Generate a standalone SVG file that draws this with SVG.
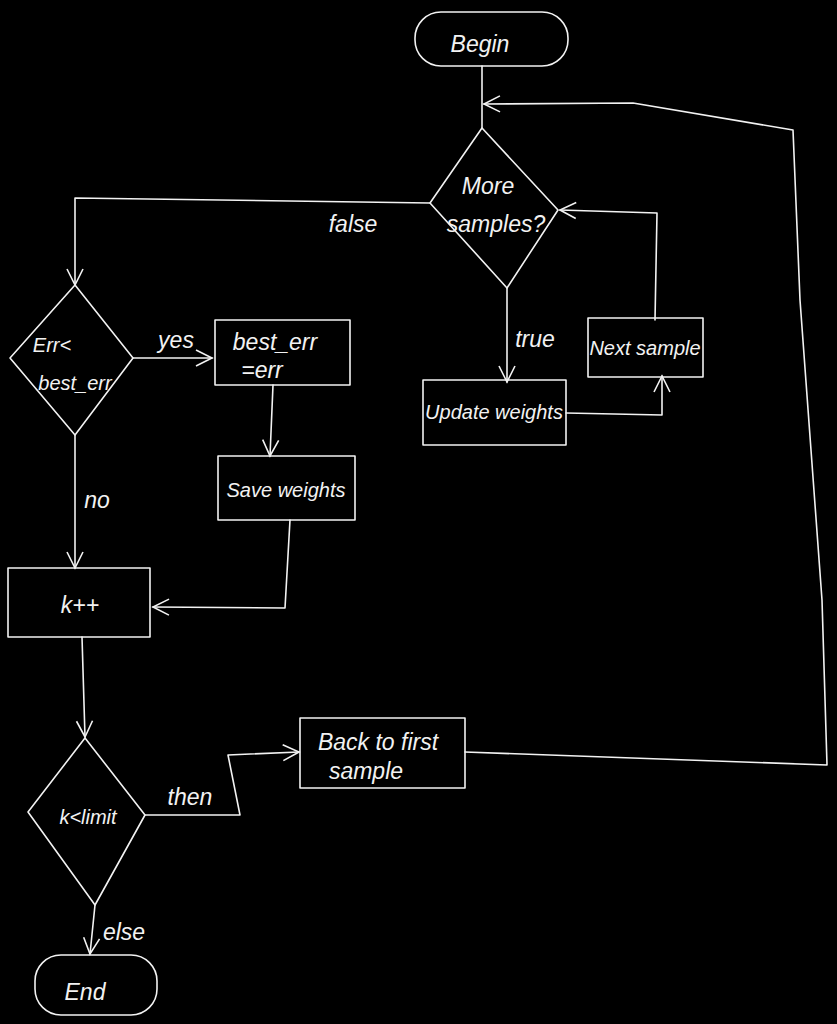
<svg xmlns="http://www.w3.org/2000/svg" width="837" height="1024" viewBox="0 0 837 1024">
<style>
.s{fill:none;stroke:#f2f2f2;stroke-width:1.6;stroke-linejoin:round;stroke-linecap:round}
.p{fill:none;stroke:#f2f2f2;stroke-width:1.6;stroke-linejoin:round;stroke-linecap:round}
.c{fill:none;stroke:#f2f2f2;stroke-width:1.6;stroke-linejoin:round;stroke-linecap:round;marker-end:url(#a)}
.t{fill:#f2f2f2;font-family:"Liberation Sans",sans-serif;font-size:23px;font-style:italic;text-anchor:middle}
.n{font-size:20px}
.l{fill:#f2f2f2;font-family:"Liberation Sans",sans-serif;font-size:23px;font-style:italic;text-anchor:middle}
</style>
<defs>
<marker id="a" viewBox="0 0 20 20" refX="18" refY="10" markerWidth="20" markerHeight="20" markerUnits="userSpaceOnUse" orient="auto">
<path d="M2,2 L18,10 L2,18" fill="none" stroke="#f2f2f2" stroke-width="1.6"/>
</marker>
</defs>
<rect width="837" height="1024" fill="#000"/>
<g id="connectors">
<path class="p" d="M482,66 L482,128"/>
<path class="c" d="M465,752 L827,765 L822,600 L800,300 L793,130 L633,103 L484,104"/>
<path class="c" d="M430,203 L75,198 L75,285"/>
<path class="c" d="M655,320 L657,213 L560,210"/>
<path class="c" d="M507,288 L507,382"/>
<path class="c" d="M566,413 L662,415 L662,376"/>
<path class="c" d="M133,358 L212,358"/>
<path class="c" d="M273,385 L270,456"/>
<path class="c" d="M290,520 L285,608 L153,607"/>
<path class="c" d="M75,435 L75,568"/>
<path class="c" d="M82,637 L85,737"/>
<path class="c" d="M145,815 L240,815 L228,755 L299,752"/>
<path class="c" d="M95,905 L90,954"/>
<text class="l" x="353" y="232">false</text>
<text class="l" x="535" y="347">true</text>
<text class="l" x="176" y="348">yes</text>
<text class="l" x="97" y="508">no</text>
<text class="l" x="190" y="805">then</text>
<text class="l" x="124" y="940">else</text>
</g>
<g id="begin">
<rect class="s" x="415" y="12" width="153" height="54" rx="26"/>
<text class="t" x="480" y="52">Begin</text>
</g>
<g id="more-samples">
<path class="s" d="M482,128 L558,210 L507,288 L430,203 Z"/>
<text class="t" x="488" y="194">More</text>
<text class="t" x="496" y="232">samples?</text>
</g>
<g id="update-weights">
<rect class="s" x="423" y="380" width="143" height="65"/>
<text class="t n" x="494" y="419">Update weights</text>
</g>
<g id="next-sample">
<rect class="s" x="588" y="318" width="115" height="59"/>
<text class="t n" x="645" y="355">Next sample</text>
</g>
<g id="err-check">
<path class="s" d="M75,285 L133,358 L75,435 L10,358 Z"/>
<text class="t n" x="52" y="352">Err&lt;</text>
<text class="t n" x="75" y="390">best_err</text>
</g>
<g id="best-err">
<rect class="s" x="215" y="320" width="135" height="65"/>
<text class="t" x="275" y="350">best_err</text>
<text class="t" x="262" y="378">=err</text>
</g>
<g id="save-weights">
<rect class="s" x="218" y="456" width="137" height="64"/>
<text class="t n" x="286" y="497">Save weights</text>
</g>
<g id="k-inc">
<rect class="s" x="8" y="568" width="142" height="69"/>
<text class="t" x="80" y="613">k++</text>
</g>
<g id="k-limit">
<path class="s" d="M85,738 L145,815 L95,905 L28,812 Z"/>
<text class="t n" x="88" y="824">k&lt;limit</text>
</g>
<g id="back-to-first">
<rect class="s" x="300" y="718" width="165" height="70"/>
<text class="t" x="378" y="750">Back to first</text>
<text class="t" x="366" y="779">sample</text>
</g>
<g id="end">
<rect class="s" x="35" y="955" width="122" height="60" rx="26"/>
<text class="t" x="85" y="1000">End</text>
</g>
</svg>
